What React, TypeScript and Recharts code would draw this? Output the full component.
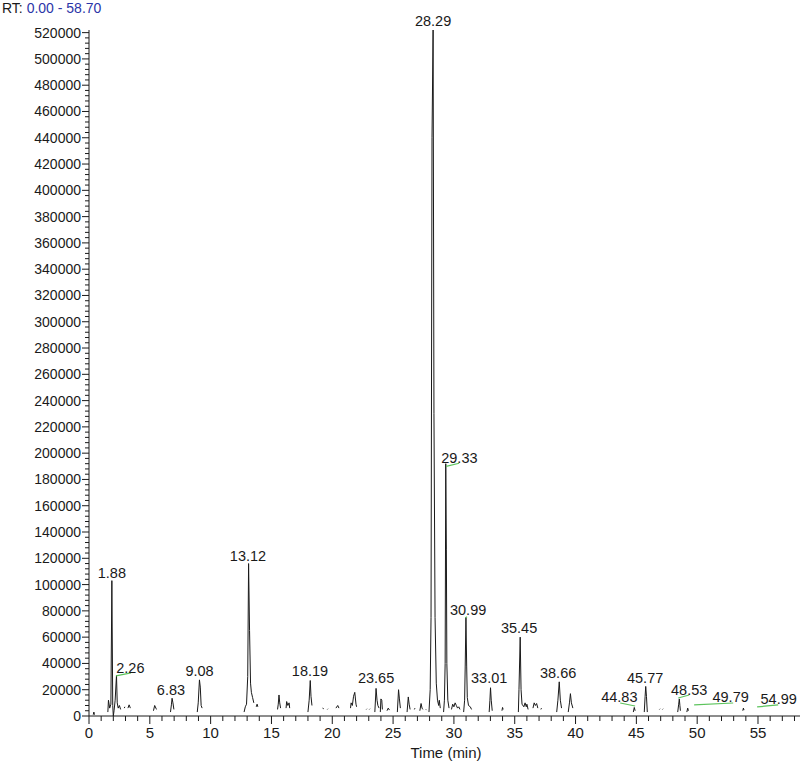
import { LineChart, Line, XAxis, YAxis, ReferenceDot, ReferenceLine } from "recharts";

// chromatogram trace, one group per peak cluster: [retention time (min), intensity]
const segments: [number, number][][] = [
  [[0.35, 1000], [0.4, 3000], [0.45, 1000]],
  [[1.55, 3000], [1.6, 12000], [1.7, 6000], [1.8, 9000], [1.88, 103000], [1.95, 8000], [2.0, 0], [2.06, 4000], [2.15, 12000], [2.26, 31000], [2.32, 10000], [2.4, 6000], [2.5, 8000], [2.6, 5000]],
  [[2.9, 6000], [2.95, 7000]],
  [[3.2, 6000], [3.3, 8500], [3.4, 6000]],
  [[5.3, 4000], [5.4, 8000], [5.5, 6000], [5.55, 5000]],
  [[6.7, 3000], [6.78, 9000], [6.83, 13500], [6.9, 10000], [6.98, 5000]],
  [[8.9, 3000], [8.98, 10000], [9.08, 27500], [9.15, 22000], [9.22, 8000], [9.3, 6000]],
  [[12.75, 3000], [12.85, 7000], [12.95, 9000], [13.05, 30000], [13.12, 116000], [13.2, 65000], [13.28, 25000], [13.35, 18000], [13.45, 14000], [13.55, 10000]],
  [[13.75, 7000], [13.82, 9000], [13.88, 7000]],
  [[15.5, 5000], [15.56, 9000], [15.62, 16000], [15.68, 10000], [15.75, 6000]],
  [[16.2, 6000], [16.25, 11000], [16.35, 8000], [16.45, 10000], [16.5, 6000]],
  [[18.0, 3000], [18.1, 12000], [18.19, 27000], [18.25, 15000], [18.33, 8000]],
  [[19.2, 6000], [19.3, 5500]],
  [[19.6, 5000], [19.65, 5500]],
  [[20.3, 6000], [20.45, 8000], [20.55, 6000]],
  [[21.5, 6000], [21.55, 10000], [21.65, 8000], [21.75, 15000], [21.85, 18000], [21.95, 9000], [22.0, 7000]],
  [[22.8, 5000], [22.85, 5500]],
  [[23.05, 5000], [23.1, 5500]],
  [[23.5, 3000], [23.6, 21000], [23.68, 12000], [23.75, 8000], [23.85, 6000]],
  [[23.95, 3000], [24.0, 13000], [24.07, 12000], [24.12, 5000]],
  [[24.5, 4000], [24.6, 6000], [24.7, 4500]],
  [[25.35, 3000], [25.45, 20000], [25.52, 13000], [25.6, 6000]],
  [[26.15, 3000], [26.25, 14500], [26.32, 9000], [26.4, 5000]],
  [[26.75, 5000], [26.8, 6000]],
  [[27.2, 4000], [27.3, 9500], [27.38, 6000], [27.45, 5000]],
  [[27.7, 5000], [27.75, 4500]],
  [[27.95, 3000], [28.05, 20000], [28.12, 75000], [28.2, 440000], [28.29, 522000], [28.36, 230000], [28.45, 75000], [28.55, 25000], [28.65, 12000], [28.75, 8000], [28.8, 12000], [28.88, 6000]],
  [[29.15, 3000], [29.22, 12000], [29.28, 40000], [29.33, 192000], [29.38, 127000], [29.42, 40000], [29.5, 12000], [29.6, 6000]],
  [[29.8, 5000], [29.9, 9000], [30.0, 7000], [30.1, 10000], [30.2, 8000], [30.3, 6000], [30.4, 7000], [30.5, 5000]],
  [[30.8, 3000], [30.88, 12000], [30.93, 38000], [30.99, 75000], [31.05, 38000], [31.1, 14000], [31.2, 8000], [31.35, 7000], [31.45, 5000]],
  [[32.9, 3000], [32.96, 12000], [33.01, 21500], [33.07, 12000], [33.15, 4000]],
  [[33.95, 4000], [34.0, 6500], [34.05, 5000]],
  [[35.3, 3000], [35.35, 20000], [35.45, 60000], [35.52, 20000], [35.6, 9000], [35.75, 7000], [35.85, 10000], [35.95, 7000], [36.0, 9000], [36.1, 5000]],
  [[36.5, 6000], [36.6, 10000], [36.7, 8000], [36.8, 9500], [36.9, 6000]],
  [[37.15, 5000], [37.2, 6000]],
  [[38.45, 3000], [38.55, 12000], [38.66, 26000], [38.75, 12000], [38.85, 6000]],
  [[39.4, 3000], [39.5, 10000], [39.58, 17000], [39.66, 10000], [39.78, 6000]],
  [[44.75, 3000], [44.83, 6500], [44.9, 4000]],
  [[45.65, 3000], [45.72, 15000], [45.77, 22500], [45.83, 15000], [45.9, 3000]],
  [[46.9, 5000], [46.95, 5500]],
  [[47.15, 5000], [47.2, 5500]],
  [[48.4, 3000], [48.48, 9000], [48.53, 13000], [48.58, 8000], [48.62, 4000]],
  [[49.15, 3000], [49.22, 6000], [49.28, 4000]],
  [[53.75, 4000], [53.8, 6000], [53.85, 4500]],
];

// peak annotations: text, and where the text sits (time, intensity)
const peakLabels = ["1.88", "2.26", "6.83", "9.08", "13.12", "18.19", "23.65", "28.29", "29.33", "30.99", "33.01", "35.45", "38.66", "44.83", "45.77", "48.53", "49.79", "54.99"];
const labelTimes = [1.88, 3.4, 6.74, 9.09, 13.07, 18.17, 23.6, 28.29, 30.45, 31.17, 32.9, 35.36, 38.57, 43.6, 45.72, 49.34, 52.75, 56.7];
const labelValues = [109000, 36600, 19800, 34300, 122100, 34300, 29000, 529000, 196100, 80900, 29000, 67200, 32800, 14500, 29000, 19800, 14500, 13000];

// green leader lines: [t1, v1, t2, v2]
const leaders: [number, number, number, number][] = [
  [2.22, 30500, 3.45, 32800],
  [29.36, 190000, 30.43, 192300],
  [30.95, 74800, 31.08, 75600],
  [43.67, 9900, 44.9, 7600],
  [48.44, 13700, 49.34, 16000],
  [49.75, 8400, 52.96, 9900],
  [54.93, 6900, 56.66, 8400],
];

const xMajor = [0, 5, 10, 15, 20, 25, 30, 35, 40, 45, 50, 55];
const yMajor = [0, 20000, 40000, 60000, 80000, 100000, 120000, 140000, 160000, 180000, 200000, 220000, 240000, 260000, 280000, 300000, 320000, 340000, 360000, 380000, 400000, 420000, 440000, 460000, 480000, 500000, 520000];

const xTicks = Array.from({ length: 59 }, (_, i) => i);
const yTicks = Array.from({ length: 131 }, (_, i) => i * 4000);

const data: { t: number; v: number | null }[] = [];
segments.forEach((seg) => {
  seg.forEach(([t, v]) => data.push({ t, v }));
  data.push({ t: seg[seg.length - 1][0], v: null });
});

const FONT = "'Liberation Sans', Arial, sans-serif";
const INK = "#1a1a1a";

const XTick = (props: any) => {
  const { x, y, payload } = props;
  const major = xMajor.includes(payload.value);
  return (
    <g>
      <line x1={x} x2={x} y1={y} y2={y + (major ? 8 : 5)} stroke={INK} />
      {major && (
        <text x={x} y={y + 22} textAnchor="middle" fontSize={15} fontFamily={FONT} fill={INK}>
          {payload.value}
        </text>
      )}
    </g>
  );
};

const YTick = (props: any) => {
  const { x, y, payload } = props;
  const major = yMajor.includes(payload.value);
  return (
    <g>
      <line x1={x - (major ? 7 : 4)} x2={x} y1={y} y2={y} stroke={INK} />
      {major && (
        <text x={x - 8} y={y + 5} textAnchor="end" fontSize={14} fontFamily={FONT} fill={INK}>
          {payload.value}
        </text>
      )}
    </g>
  );
};

export default function App() {
  return (
    <div style={{ position: "absolute", left: 0, top: 0, width: 800, height: 761, overflow: "hidden", background: "#fff" }}>
      <div style={{ position: "absolute", left: 2, top: 0, fontFamily: FONT, fontSize: 14, lineHeight: "16px", color: INK }}>
        RT: <span style={{ color: "#2b35a8" }}>0.00 - 58.70</span>
      </div>
      <LineChart width={810} height={761} data={data} margin={{ top: 30, right: 7, bottom: 0, left: 0 }}>
        <XAxis
          dataKey="t"
          type="number"
          domain={[0, 58.7]}
          ticks={xTicks}
          interval={0}
          tickSize={0}
          tickMargin={0}
          tickLine={false}
          tick={<XTick />}
          height={45}
          stroke={INK}
          label={{ value: "Time (min)", position: "insideBottom", offset: 3, fill: INK, fontSize: 15, fontFamily: FONT }}
        />
        <YAxis
          type="number"
          domain={[0, 522000]}
          ticks={yTicks}
          interval={0}
          tickSize={0}
          tickMargin={0}
          tickLine={false}
          tick={<YTick />}
          width={89}
          stroke={INK}
        />
        <Line
          type="linear"
          dataKey="v"
          stroke={INK}
          strokeWidth={1}
          dot={false}
          connectNulls={false}
          isAnimationActive={false}
        />
        {leaders.map(([t1, v1, t2, v2], i) => (
          <ReferenceLine
            key={"l" + i}
            segment={[{ x: t1, y: v1 }, { x: t2, y: v2 }]}
            stroke="#5cc45c"
            strokeWidth={1.2}
            ifOverflow="visible"
          />
        ))}
        {peakLabels.map((txt, i) => (
          <ReferenceDot
            key={"d" + i}
            x={labelTimes[i]}
            y={labelValues[i]}
            r={0}
            ifOverflow="visible"
            shape={(p: any) => (
              <text x={p.cx} y={p.cy + 5} textAnchor="middle" fontSize={14.5} fontFamily={FONT} fill={INK}>
                {txt}
              </text>
            )}
          />
        ))}
      </LineChart>
    </div>
  );
}
